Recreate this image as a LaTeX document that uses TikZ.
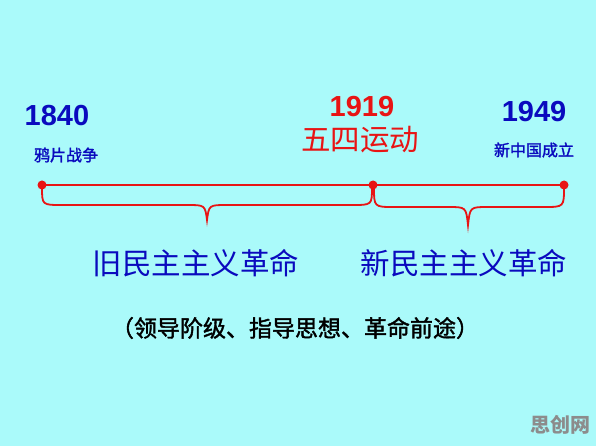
\documentclass[tikz,border=0pt]{standalone}
\usepackage{fontspec}
\setmainfont{Liberation Sans}
\newfontfamily\cjk{Noto Sans CJK SC}
\newfontfamily\cjkheavy[FakeBold=1.6]{Noto Sans CJK SC}
\usetikzlibrary{arrows.meta,positioning}
\definecolor{bgcyan}{RGB}{170,250,250}
\definecolor{yearblue}{RGB}{10,10,190}
\definecolor{eventred}{RGB}{232,20,20}
\definecolor{markgray}{RGB}{140,140,140}

\begin{document}
\begin{tikzpicture}[x=1pt,y=-1pt,>=Stealth,
    every node/.style={inner sep=0pt},
    year/.style={font=\fontsize{29}{29}\selectfont\bfseries},
    evsmall/.style={font=\cjkheavy\fontsize{16}{16}\selectfont,text=yearblue},
    evbig/.style={font=\cjk\fontsize{29.5}{29.5}\selectfont},
    dot/.style={circle,fill=eventred,minimum size=9pt},
    brace/.style={draw=eventred,line width=1.8pt}]
  \fill[bgcyan] (0,0) rectangle (596,446);
  \useasboundingbox (0,0) rectangle (596,446);
  \node[year,text=yearblue] (y1840) at (57,116) {1840};
  \node[evsmall] (e1840) at (66,155) {鸦片战争};
  \node[year,text=eventred] (y1919) at (362,107) {1919};
  \node[evbig,text=eventred] (e1919) at (360,140) {五四运动};
  \node[year,text=yearblue] (y1949) at (534,112) {1949};
  \node[evsmall] (e1949) at (534,150) {新中国成立};
  \node[dot] (d1840) at (42,185) {};
  \node[dot] (d1919) at (373,185) {};
  \node[dot] (d1949) at (564,185) {};
  \draw[eventred,line width=2.4pt] (d1840.center) -- (d1919.center) -- (d1949.center);
  \draw[brace] (42,187) .. controls (42,205) .. (62,205) -- (187,205)
    .. controls (205,205) .. (207,220) .. controls (209,205) .. (227,205)
    -- (352,205) .. controls (372,205) .. (372,187);
  \draw[brace] (374,187) .. controls (374,207) .. (394,207) -- (448,207)
    .. controls (466,207) .. (468,225) .. controls (470,207) .. (488,207)
    -- (544,207) .. controls (564,207) .. (564,187);
  \node[evbig,text=yearblue] (old) at (196,263) {旧民主主义革命};
  \node[evbig,text=yearblue] (new) at (464,263) {新民主主义革命};
  \node[font=\cjkheavy\fontsize{23}{23}\selectfont] (note) at (295,328) {（领导阶级、指导思想、革命前途）};
  \node[font=\cjk\bfseries\fontsize{20}{20}\selectfont,text=markgray] (mark) at (560,425) {思创网};
\end{tikzpicture}
\end{document}
